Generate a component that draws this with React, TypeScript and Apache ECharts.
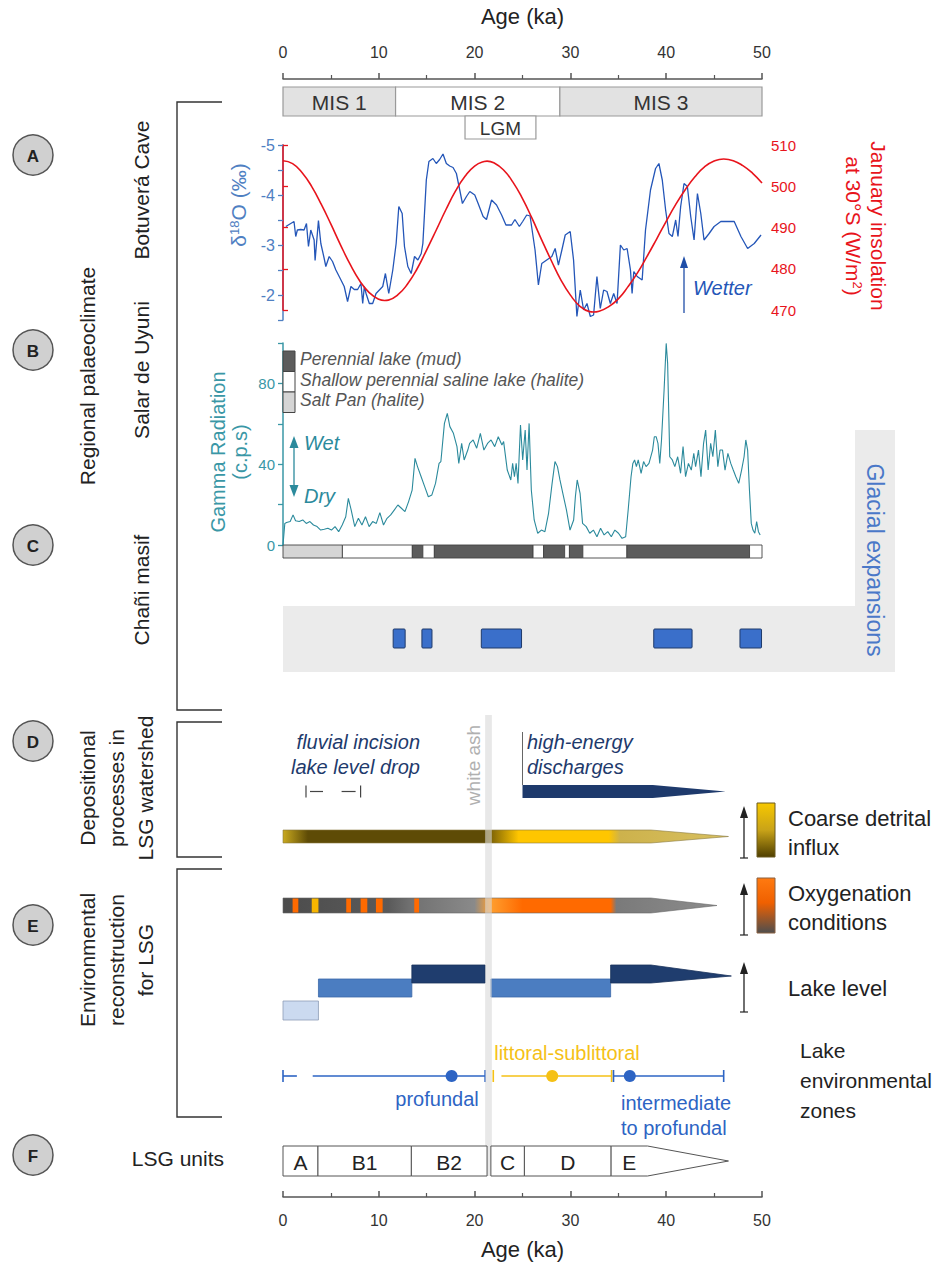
import React, { useEffect, useRef } from "react";
import * as echarts from "echarts";

const FONT = "'Liberation Sans', Arial, Helvetica, sans-serif";

// ---------------- data ----------------
const AGE_MIN = 0;
const AGE_MAX = 50;

const MIS_STAGES = [
  { name: "MIS 1", start: 0, end: 11.75, kind: "shaded" },
  { name: "MIS 2", start: 11.75, end: 28.9, kind: "open" },
  { name: "MIS 3", start: 28.9, end: 50, kind: "shaded" },
];
const LGM = [{ name: "LGM", start: 19.0, end: 26.4 }];

const D18O_TICK_LABELS = [-5, -4, -3, -2];
const GAMMA_TICK_LABELS = [0, 40, 80];

// Botuverá Cave δ18O (‰) [age ka, value]
const D18O = [
  [0.3, -3.37], [1.15, -3.47], [1.33, -3.17], [1.5, -3.3], [1.85, -3.31], [2.2, -3.3], [2.45, -3.43], [2.66, -2.97],
  [2.9, -3.3], [3.25, -3.1], [3.35, -2.69], [3.7, -3.49], [3.95, -3.03], [4.3, -2.73], [4.47, -2.57], [4.82, -2.77],
  [5.17, -2.67], [5.52, -2.5], [6.05, -2.3], [6.39, -2.17], [6.74, -1.87], [7.09, -2.17], [7.44, -2.11], [7.79, -2.11],
  [8.14, -2.23], [8.32, -1.83], [8.49, -2.17], [8.67, -2.03], [9.01, -1.83], [9.36, -1.83], [9.71, -2.03], [10.06, -2.1],
  [10.41, -2.17], [10.69, -2.43], [11.04, -2.03], [11.46, -2.5], [11.81, -3.03], [12.09, -3.77], [12.44, -3.63],
  [12.68, -2.97], [13.03, -2.57], [13.38, -2.43], [13.73, -2.77], [14.08, -2.7], [14.43, -2.83], [14.6, -3.03],
  [14.96, -4.3], [15.23, -4.67], [15.65, -4.73], [16.0, -4.63], [16.35, -4.71], [16.7, -4.82], [17.05, -4.63],
  [17.4, -4.58], [17.75, -4.55], [18.1, -4.43], [18.45, -4.1], [18.73, -3.83], [19.15, -3.97], [19.5, -4.07],
  [20.02, -4.0], [20.37, -3.83], [20.89, -3.57], [21.24, -3.51], [21.77, -3.9], [22.29, -3.8], [22.82, -3.6],
  [23.27, -3.4], [23.86, -3.4], [24.21, -3.51], [24.67, -3.37], [25.02, -3.47], [25.44, -3.6], [25.79, -3.58],
  [26.31, -2.9], [26.66, -2.2], [27.01, -2.63], [27.53, -2.7], [28.06, -2.77], [28.41, -2.93], [28.75, -2.6],
  [29.11, -2.9], [29.46, -3.2], [29.98, -3.27], [30.33, -2.7], [30.68, -1.57], [31.03, -2.1], [31.38, -1.7],
  [31.73, -1.83], [32.08, -1.57], [32.42, -1.6], [32.77, -2.37], [33.12, -1.73], [33.47, -2.1], [33.82, -2.07],
  [34.17, -1.83], [34.52, -2.03], [34.87, -1.83], [35.22, -3.0], [35.57, -2.9], [35.92, -2.93], [36.27, -2.5],
  [36.44, -2.03], [36.62, -2.47], [36.97, -2.37], [37.49, -2.3], [37.84, -3.3], [38.36, -4.1], [38.89, -4.53],
  [39.24, -4.63], [39.59, -4.3], [39.94, -3.7], [40.29, -3.23], [40.64, -3.17], [40.99, -3.5], [41.23, -3.17],
  [41.51, -3.77], [41.86, -4.23], [42.21, -4.17], [42.56, -3.57], [42.91, -3.1], [43.26, -4.03], [43.61, -3.63],
  [43.95, -3.1], [44.48, -3.23], [45.0, -3.37], [45.7, -3.47], [46.4, -3.47], [47.1, -3.47], [47.8, -3.17],
  [48.5, -2.93], [49.19, -3.03], [49.9, -3.2],
];

// January insolation at 30°S (W/m²) [age ka, value]
const INSOLATION = [
  [0, 506.2], [1, 505.5], [2, 503.3], [3, 499.9], [4, 495.6], [5, 490.8], [6, 485.8], [7, 481.1], [8, 477.1],
  [9, 474.2], [10, 472.6], [10.6, 472.3], [11, 472.4], [12, 473.7], [13, 476.3], [14, 480.0], [15, 484.6],
  [16, 489.4], [17, 494.3], [18, 498.8], [19, 502.4], [20, 504.9], [21, 506.0], [21.3, 506.1], [22, 505.7],
  [23, 504.0], [24, 501.0], [25, 497.0], [26, 492.2], [27, 487.0], [28, 482.0], [29, 477.3], [30, 473.6],
  [31, 470.9], [32, 469.6], [32.4, 469.5], [33, 469.7], [34, 470.8], [35, 472.7], [36, 475.6], [37, 479.0],
  [38, 483.0], [39, 487.2], [40, 491.5], [41, 495.6], [42, 499.2], [43, 502.3], [44, 504.7], [45, 506.1],
  [46, 506.6], [47, 506.2], [48, 505.0], [49, 503.2], [50, 500.8],
];

// Salar de Uyuni gamma radiation (c.p.s) [age ka, value]
const GAMMA = [
  [0, 0], [0.19, 10.7], [0.37, 11.1], [0.75, 11.6], [1.05, 14.9], [1.31, 12.0], [1.69, 11.6], [2.06, 12.4],
  [2.43, 10.7], [2.81, 11.6], [3.18, 9.9], [3.56, 9.1], [3.93, 7.4], [4.31, 7.8], [4.68, 8.3], [5.06, 7.4],
  [5.43, 9.1], [5.81, 6.6], [6.18, 9.9], [6.55, 14.0], [6.82, 23.1], [7.12, 17.3], [7.49, 9.1], [7.87, 13.2],
  [8.24, 9.9], [8.61, 14.0], [8.99, 9.1], [9.36, 11.6], [9.74, 10.7], [10.11, 16.0], [10.49, 9.9], [10.86, 13.2],
  [11.24, 14.9], [11.61, 17.3], [11.99, 19.8], [12.36, 18.2], [12.73, 16.5], [13.11, 21.5], [13.48, 27.2],
  [13.78, 42.9], [14.04, 38.8], [14.42, 33.8], [14.79, 28.9], [15.17, 23.9], [15.54, 24.8], [15.92, 30.5],
  [16.29, 40.4], [16.48, 41.3], [16.85, 60.2], [17.15, 65.2], [17.42, 58.6], [17.79, 55.3], [18.16, 48.7],
  [18.35, 40.4], [18.65, 50.3], [18.91, 42.1], [19.29, 47.0], [19.48, 50.3], [19.85, 52.0], [20.22, 47.9],
  [20.6, 55.3], [20.97, 47.0], [21.35, 50.3], [21.72, 52.0], [22.1, 48.7], [22.47, 53.6], [22.85, 49.5],
  [23.03, 51.2], [23.41, 37.1], [23.78, 32.2], [23.97, 40.4], [24.16, 33.8], [24.34, 40.4], [24.53, 30.5],
  [24.79, 59.4], [25.02, 42.1], [25.28, 56.9], [25.47, 37.1], [25.69, 60.2], [25.92, 27.2], [26.22, 12.4],
  [26.59, 5.8], [26.97, 7.4], [27.34, 6.6], [27.72, 15.7], [28.09, 30.5], [28.39, 41.3], [28.65, 38.8],
  [28.91, 32.2], [29.21, 25.6], [29.59, 17.3], [29.96, 7.4], [30.34, 12.4], [30.52, 23.9], [30.71, 32.2],
  [31.01, 25.6], [31.27, 10.7], [31.65, 9.1], [32.02, 5.8], [32.4, 7.4], [32.77, 4.1], [33.15, 8.3], [33.52, 5.0],
  [33.9, 6.6], [34.27, 4.1], [34.64, 7.4], [35.02, 5.8], [35.39, 3.3], [35.77, 4.1], [36.03, 17.3], [36.33, 33.8],
  [36.52, 40.4], [36.7, 42.1], [36.89, 38.8], [37.08, 42.1], [37.38, 35.5], [37.64, 41.3], [37.9, 38.8],
  [38.2, 40.4], [38.58, 47.0], [38.76, 53.6], [38.95, 53.6], [39.14, 50.3], [39.33, 40.4], [39.51, 52.0],
  [39.78, 76.7], [40.0, 99.8], [40.15, 89.9], [40.37, 43.7], [40.64, 42.1], [40.9, 38.8], [41.2, 43.7],
  [41.5, 35.5], [41.76, 48.7], [42.02, 33.8], [42.32, 40.4], [42.62, 37.1], [42.88, 45.4], [43.07, 38.8],
  [43.37, 47.0], [43.63, 33.8], [43.9, 50.3], [44.12, 56.9], [44.38, 37.1], [44.64, 50.3], [44.87, 43.7],
  [45.13, 56.9], [45.39, 38.8], [45.62, 47.0], [45.88, 47.0], [46.14, 37.1], [46.44, 45.4], [46.74, 40.4],
  [47.0, 37.1], [47.27, 33.8], [47.57, 30.5], [47.87, 37.1], [48.13, 43.7], [48.31, 52.0], [48.5, 47.0],
  [48.69, 27.2], [48.88, 10.7], [49.06, 7.4], [49.25, 5.8], [49.44, 11.6], [49.63, 6.6], [49.81, 5.0],
];

// Salar de Uyuni stratigraphy
const STRAT_UNITS = [
  { start: 0, end: 6.2, facies: "saltPan" },
  { start: 6.2, end: 13.5, facies: "shallow" },
  { start: 13.5, end: 14.6, facies: "perennial" },
  { start: 14.6, end: 15.8, facies: "shallow" },
  { start: 15.8, end: 26.1, facies: "perennial" },
  { start: 26.1, end: 27.2, facies: "shallow" },
  { start: 27.2, end: 29.4, facies: "perennial" },
  { start: 29.4, end: 29.9, facies: "shallow" },
  { start: 29.9, end: 31.3, facies: "perennial" },
  { start: 31.3, end: 35.9, facies: "shallow" },
  { start: 35.9, end: 48.7, facies: "perennial" },
  { start: 48.7, end: 50, facies: "shallow" },
];
const STRAT_LEGEND = [
  { facies: "perennial", label: "Perennial lake (mud)" },
  { facies: "shallow", label: "Shallow perennial saline lake (halite)" },
  { facies: "saltPan", label: "Salt Pan (halite)" },
];

// Chañi masif glacial expansions [start, end] ka
const GLACIAL_EXPANSIONS = [
  [11.5, 12.75], [14.5, 15.55], [20.7, 24.9], [38.7, 42.7], [47.7, 49.95],
];

const WHITE_ASH = { start: 21.1, end: 21.8 };
const FLUVIAL_INCISION = { start: 2.4, end: 8.1 };
const HIGH_ENERGY = { start: 25.0, taper: 38.6, tip: 46.2 };
const COARSE_DETRITAL = { start: 0, taper: 38.4, tip: 46.5 };
const COARSE_STOPS: [number, string][] = [
  [0, "#c9a91f"], [2.6, "#5e4b06"], [21.0, "#5e4b06"], [24.6, "#ffc600"], [34.0, "#ffc600"], [35.2, "#cdb24c"], [46.5, "#d8c060"],
];
const OXYGENATION = { start: 0, taper: 38.4, tip: 45.3 };
const OXY_STOPS: [number, string][] = [
  [0, "#4c4c4c"], [11, "#5a5a5a"], [13.2, "#707070"], [20.0, "#8a8a8a"], [21.6, "#ffa030"], [25.0, "#ff6a00"],
  [34.2, "#ff6a00"], [34.8, "#7a7a7a"], [45.3, "#8c8c8c"],
];
const OXY_PULSES = [
  { start: 1.0, end: 1.6, kind: "orange" },
  { start: 3.0, end: 3.7, kind: "yellow" },
  { start: 6.6, end: 7.1, kind: "orange" },
  { start: 8.1, end: 8.8, kind: "orange" },
  { start: 9.7, end: 10.4, kind: "orange" },
  { start: 13.7, end: 14.2, kind: "orange" },
];
const LAKE_LEVEL = [
  { start: 0, end: 3.7, level: 0 },
  { start: 3.7, end: 13.45, level: 1 },
  { start: 13.45, end: 21.1, level: 2 },
  { start: 21.7, end: 34.2, level: 1 },
  { start: 34.2, end: 38.4, level: 2, tip: 46.8 },
];
const ZONE_SEGMENTS = [
  { start: 0, end: 1.45, zone: "deep", capStart: true, capEnd: false },
  { start: 3.1, end: 21.1, zone: "deep", capStart: false, capEnd: true },
  { start: 21.95, end: 21.95, zone: "shallow", capStart: true, capEnd: false },
  { start: 22.8, end: 34.3, zone: "shallow", capStart: false, capEnd: true },
  { start: 34.5, end: 46.0, zone: "deep", capStart: true, capEnd: true },
];
const ZONE_CENTRES = [
  { age: 17.6, zone: "deep" },
  { age: 28.1, zone: "shallow" },
  { age: 36.2, zone: "deep" },
];
const LSG_UNITS = [
  { name: "A", start: 0, end: 3.65 },
  { name: "B1", start: 3.65, end: 13.4 },
  { name: "B2", start: 13.4, end: 21.3 },
  { name: "C", start: 21.7, end: 25.2 },
  { name: "D", start: 25.2, end: 34.25 },
  { name: "E", start: 34.25, end: 38.05, tip: 46.5 },
];

// ---------------- layout & styles ----------------
const PLOT_LEFT = 283;
const PLOT_WIDTH = 479;
const LANES: [string, number, number][] = [
  ["axisTop", 69, 10],
  ["mis", 87, 29],
  ["lgm", 116, 23],
  ["a", 145, 175],
  ["a2", 145, 165],
  ["b", 343, 202],
  ["strat", 545, 13],
  ["glacial", 629, 19],
  ["ash", 715, 461],
  ["energy", 785, 13],
  ["coarse", 830, 13],
  ["oxy", 898, 15],
  ["lake", 962, 60],
  ["zones", 1066, 20],
  ["units", 1146, 30],
  ["axisBottom", 1187, 10],
];
const G: Record<string, number> = {};
LANES.forEach(([k], i) => (G[k] = i));

const C = {
  text: "#222",
  axis: "#555",
  d18o: "#2456b8",
  d18oAxis: "#4f80c2",
  insol: "#e8141c",
  gamma: "#2b8a9c",
  gammaAxis: "#3a97a6",
  navy: "#1e3a6c",
  deep: "#2d64c4",
  shallow: "#f5c116",
  glacial: "#3a6fca",
  glacialText: "#4a78c8",
  legendGrey: "#555",
};
const MIS_FILL: Record<string, string> = { shaded: "#e2e2e2", open: "#ffffff" };
const FACIES_FILL: Record<string, string> = { perennial: "#5c5c5c", shallow: "#ffffff", saltPan: "#d5d5d5" };
const PULSE_FILL: Record<string, string> = { orange: "#ff6a00", yellow: "#f7b500" };
const LAKE_ROWS: Record<number, { dy: number; h: number; fill: string; stroke: string }> = {
  0: { dy: 39, h: 19, fill: "#cbdaf0", stroke: "#8d9db6" },
  1: { dy: 17, h: 18, fill: "#4b7dc1", stroke: "#3b68a8" },
  2: { dy: 3, h: 18, fill: "#1f3d6e", stroke: "#19325c" },
};
const ZONE_COLOR: Record<string, string> = { deep: C.deep, shallow: C.shallow };

const LABEL_SIZE = 21;
const LEGEND_SIZE = 22;

// ---------------- helpers ----------------
const px = (api: any, age: number) => api.coord([age, 0])[0];

function lane(key: string, data: any[], render: (p: any, api: any, i: number) => any, z = 3) {
  return {
    type: "custom",
    xAxisIndex: G[key],
    yAxisIndex: G[key],
    data,
    encode: { x: [0, 1] },
    clip: false,
    silent: true,
    z,
    renderItem: (p: any, api: any) => render(p, api, p.dataIndex),
  };
}

function txt(text: string, x: number, y: number, o: any = {}) {
  return {
    type: "text",
    x,
    y,
    z: 100,
    rotation: o.rot || 0,
    style: {
      text,
      fill: o.color || C.text,
      fontSize: o.size || LABEL_SIZE,
      fontFamily: FONT,
      fontStyle: o.italic ? "italic" : "normal",
      fontWeight: o.bold ? "bold" : "normal",
      align: o.align || "center",
      verticalAlign: "middle",
      rich: o.rich,
    },
  };
}

function gLine(x1: number, y1: number, x2: number, y2: number, color: string, w = 1.3) {
  return { type: "line", z: 100, shape: { x1, y1, x2, y2 }, style: { stroke: color, lineWidth: w } };
}
function gPoly(points: number[][], color: string) {
  return { type: "polygon", z: 100, shape: { points }, style: { fill: color } };
}
function upArrow(x: number, top: number, bottom: number, color: string, foot = true) {
  const els: any[] = [gLine(x, bottom, x, top + 8, color), gPoly([[x, top], [x - 4, top + 12], [x + 4, top + 12]], color)];
  if (foot) els.push(gLine(x - 4, bottom, x + 4, bottom, color, 1.2));
  return els;
}
function taperPoints(p: any, api: any, bar: { start: number; taper: number; tip: number }) {
  const cs = p.coordSys;
  const x0 = px(api, bar.start), xt = px(api, bar.taper), xe = px(api, bar.tip);
  const top = cs.y, bot = cs.y + cs.height, mid = cs.y + cs.height / 2;
  return [[x0, top], [xt, top], [xe, mid], [xt, bot], [x0, bot]];
}
function gradient(api: any, bar: { start: number; tip: number }, stops: [number, string][]) {
  return new echarts.graphic.LinearGradient(
    px(api, bar.start), 0, px(api, bar.tip), 0,
    stops.map(([a, c]) => ({ offset: (a - bar.start) / (bar.tip - bar.start), color: c })),
    true
  );
}

// ---------------- option ----------------
function buildOption() {
  const grid = LANES.map(([, top, height]) => ({ left: PLOT_LEFT, width: PLOT_WIDTH, top, height, containLabel: false }));

  const xAxis = LANES.map(([k], i) => {
    const base: any = { gridIndex: i, type: "value", min: AGE_MIN, max: AGE_MAX, show: false, splitLine: { show: false } };
    if (k === "axisTop" || k === "axisBottom") {
      const top = k === "axisTop";
      Object.assign(base, {
        show: true,
        position: top ? "top" : "bottom",
        interval: 10,
        axisLine: { show: true, lineStyle: { color: C.axis, width: 1.5 } },
        axisTick: { show: true, inside: !top, length: 6, lineStyle: { color: C.axis, width: 1.5 } },
        minorTick: { show: true, splitNumber: 2, length: 4, lineStyle: { color: C.axis, width: 1.2 } },
        minorSplitLine: { show: false },
        axisLabel: { show: true, margin: top ? 9 : 15, fontSize: 16, color: "#333", fontFamily: FONT },
        name: "Age (ka)",
        nameLocation: "middle",
        nameGap: top ? 42 : 41,
        nameTextStyle: { fontSize: 22, color: C.text, fontFamily: FONT },
      });
    }
    return base;
  });

  const yAxis: any[] = LANES.map(([], i) => ({ gridIndex: i, type: "value", min: 0, max: 1, show: false, splitLine: { show: false } }));
  yAxis[G.a] = {
    gridIndex: G.a, type: "value", position: "left", min: -5, max: -1.5, inverse: true, interval: 0.5,
    axisLine: { show: true, lineStyle: { color: C.d18oAxis, width: 1.5 } },
    axisTick: { show: true, length: 5, lineStyle: { color: C.d18oAxis, width: 1.3 } },
    axisLabel: {
      show: true, margin: 8, fontSize: 16, color: C.d18oAxis, fontFamily: FONT,
      formatter: (v: number) => (D18O_TICK_LABELS.includes(Math.round(v * 100) / 100) ? String(v) : ""),
    },
    splitLine: { show: false },
  };
  yAxis[G.a2] = {
    gridIndex: G.a2, type: "value", position: "right", min: 470, max: 510, interval: 10,
    axisLine: { show: true, lineStyle: { color: C.insol, width: 1.5 } },
    axisTick: { show: true, length: 5, lineStyle: { color: C.insol, width: 1.3 } },
    axisLabel: { show: true, margin: 9, fontSize: 15, color: C.insol, fontFamily: FONT },
    splitLine: { show: false },
  };
  yAxis[G.b] = {
    gridIndex: G.b, type: "value", position: "left", min: 0, max: 100, interval: 20,
    axisLine: { show: true, lineStyle: { color: C.gammaAxis, width: 1.5 } },
    axisTick: { show: true, length: 5, lineStyle: { color: C.gammaAxis, width: 1.3 } },
    axisLabel: {
      show: true, margin: 8, fontSize: 15, color: C.gammaAxis, fontFamily: FONT,
      formatter: (v: number) => (GAMMA_TICK_LABELS.includes(v) ? String(v) : ""),
    },
    splitLine: { show: false },
  };

  const series: any[] = [
    {
      type: "line", xAxisIndex: G.a, yAxisIndex: G.a, data: D18O, symbol: "none", showSymbol: false,
      lineStyle: { color: C.d18o, width: 1.3 }, z: 3, silent: true,
    },
    {
      type: "line", xAxisIndex: G.a2, yAxisIndex: G.a2, data: INSOLATION, smooth: true, symbol: "none",
      showSymbol: false, clip: false, lineStyle: { color: C.insol, width: 1.6 }, z: 4, silent: true,
    },
    {
      type: "line", xAxisIndex: G.b, yAxisIndex: G.b, data: GAMMA, symbol: "none", showSymbol: false,
      lineStyle: { color: C.gamma, width: 1.1 }, z: 3, silent: true,
    },
    // MIS stages
    lane("mis", MIS_STAGES.map((s) => [s.start, s.end]), (p, api, i) => {
      const s = MIS_STAGES[i];
      const cs = p.coordSys;
      const x0 = px(api, s.start), x1 = px(api, s.end);
      return {
        type: "group",
        children: [
          { type: "rect", shape: { x: x0, y: cs.y, width: x1 - x0, height: cs.height }, style: { fill: MIS_FILL[s.kind], stroke: "#9a9a9a", lineWidth: 1.2 } },
          { type: "text", style: { x: (x0 + x1) / 2, y: cs.y + cs.height / 2 + 1, text: s.name, fill: "#333", fontSize: 21, fontFamily: FONT, align: "center", verticalAlign: "middle" } },
        ],
      };
    }),
    lane("lgm", LGM.map((s) => [s.start, s.end]), (p, api, i) => {
      const s = LGM[i];
      const cs = p.coordSys;
      const x0 = px(api, s.start), x1 = px(api, s.end);
      return {
        type: "group",
        children: [
          { type: "rect", shape: { x: x0, y: cs.y, width: x1 - x0, height: cs.height }, style: { fill: "#fff", stroke: "#9a9a9a", lineWidth: 1.2 } },
          { type: "text", style: { x: (x0 + x1) / 2, y: cs.y + cs.height / 2 + 1, text: s.name, fill: "#333", fontSize: 19, fontFamily: FONT, align: "center", verticalAlign: "middle" } },
        ],
      };
    }),
    // stratigraphy bar
    lane("strat", STRAT_UNITS.map((s) => [s.start, s.end]), (p, api, i) => {
      const s = STRAT_UNITS[i];
      const cs = p.coordSys;
      const x0 = px(api, s.start), x1 = px(api, s.end);
      return { type: "rect", shape: { x: x0, y: cs.y, width: x1 - x0, height: cs.height }, style: { fill: FACIES_FILL[s.facies], stroke: "#444", lineWidth: 0.9 } };
    }),
    // glacial expansions
    lane("glacial", GLACIAL_EXPANSIONS, (p, api, i) => {
      const [a, b] = GLACIAL_EXPANSIONS[i];
      const cs = p.coordSys;
      const x0 = px(api, a), x1 = px(api, b);
      return { type: "rect", shape: { x: x0, y: cs.y, width: x1 - x0, height: cs.height, r: 1 }, style: { fill: C.glacial, stroke: "#1f3a6a", lineWidth: 1 } };
    }),
    // white ash
    lane("ash", [[WHITE_ASH.start, WHITE_ASH.end]], (p, api) => {
      const cs = p.coordSys;
      const x0 = px(api, WHITE_ASH.start), x1 = px(api, WHITE_ASH.end);
      return { type: "rect", shape: { x: x0, y: cs.y, width: x1 - x0, height: cs.height }, style: { fill: "#d9d9d9", opacity: 0.6 } };
    }, 5),
    // high-energy discharges
    lane("energy", [[HIGH_ENERGY.start, HIGH_ENERGY.tip]], (p, api) => {
      const cs = p.coordSys;
      const x0 = px(api, HIGH_ENERGY.start);
      return {
        type: "group",
        children: [
          { type: "polygon", shape: { points: taperPoints(p, api, HIGH_ENERGY) }, style: { fill: C.navy } },
          { type: "line", shape: { x1: x0, y1: cs.y, x2: x0, y2: cs.y - 53 }, style: { stroke: "#666", lineWidth: 1 } },
        ],
      };
    }),
    // fluvial incision / lake level drop markers
    lane("energy", [[FLUVIAL_INCISION.start, FLUVIAL_INCISION.end]], (p, api) => {
      const cs = p.coordSys;
      const mid = cs.y + cs.height / 2;
      const a = px(api, FLUVIAL_INCISION.start), b = px(api, FLUVIAL_INCISION.end);
      const st = { stroke: "#444", lineWidth: 1.2 };
      return {
        type: "group",
        children: [
          { type: "line", shape: { x1: a, y1: mid - 6, x2: a, y2: mid + 6 }, style: st },
          { type: "line", shape: { x1: a + 4, y1: mid, x2: a + 17, y2: mid }, style: st },
          { type: "line", shape: { x1: b, y1: mid - 6, x2: b, y2: mid + 6 }, style: st },
          { type: "line", shape: { x1: b - 19, y1: mid, x2: b - 5, y2: mid }, style: st },
        ],
      };
    }),
    // coarse detrital influx
    lane("coarse", [[COARSE_DETRITAL.start, COARSE_DETRITAL.tip]], (p, api) => ({
      type: "polygon",
      shape: { points: taperPoints(p, api, COARSE_DETRITAL) },
      style: { fill: gradient(api, COARSE_DETRITAL, COARSE_STOPS), stroke: "#8a7a40", lineWidth: 0.6 },
    })),
    // oxygenation
    lane("oxy", [[OXYGENATION.start, OXYGENATION.tip]], (p, api) => ({
      type: "polygon",
      shape: { points: taperPoints(p, api, OXYGENATION) },
      style: { fill: gradient(api, OXYGENATION, OXY_STOPS), stroke: "#666", lineWidth: 0.6 },
    })),
    lane("oxy", OXY_PULSES.map((s) => [s.start, s.end]), (p, api, i) => {
      const s = OXY_PULSES[i];
      const cs = p.coordSys;
      const x0 = px(api, s.start), x1 = px(api, s.end);
      return { type: "rect", shape: { x: x0, y: cs.y + 0.5, width: x1 - x0, height: cs.height - 1 }, style: { fill: PULSE_FILL[s.kind] } };
    }, 4),
    // lake level
    lane("lake", LAKE_LEVEL.map((s) => [s.start, s.tip ?? s.end]), (p, api, i) => {
      const s = LAKE_LEVEL[i];
      const cs = p.coordSys;
      const row = LAKE_ROWS[s.level];
      const top = cs.y + row.dy, bot = top + row.h;
      const x0 = px(api, s.start), x1 = px(api, s.end);
      if (s.tip !== undefined) {
        const xe = px(api, s.tip);
        return { type: "polygon", shape: { points: [[x0, top], [x1, top], [xe, (top + bot) / 2 + 2], [x1, bot], [x0, bot]] }, style: { fill: row.fill, stroke: row.stroke, lineWidth: 0.8 } };
      }
      return { type: "rect", shape: { x: x0, y: top, width: x1 - x0, height: row.h }, style: { fill: row.fill, stroke: row.stroke, lineWidth: 0.8 } };
    }),
    // lake environmental zones
    lane("zones", ZONE_SEGMENTS.map((s) => [s.start, s.end]), (p, api, i) => {
      const s = ZONE_SEGMENTS[i];
      const cs = p.coordSys;
      const mid = cs.y + cs.height / 2;
      const col = ZONE_COLOR[s.zone];
      const x0 = px(api, s.start), x1 = px(api, s.end);
      const st = { stroke: col, lineWidth: 1.6 };
      const ch: any[] = [];
      if (x1 > x0) ch.push({ type: "line", shape: { x1: x0, y1: mid, x2: x1, y2: mid }, style: st });
      if (s.capStart) ch.push({ type: "line", shape: { x1: x0, y1: mid - 6, x2: x0, y2: mid + 6 }, style: st });
      if (s.capEnd) ch.push({ type: "line", shape: { x1: x1, y1: mid - 6, x2: x1, y2: mid + 6 }, style: st });
      return { type: "group", children: ch };
    }),
    lane("zones", ZONE_CENTRES.map((s) => [s.age, s.age]), (p, api, i) => {
      const s = ZONE_CENTRES[i];
      const cs = p.coordSys;
      return { type: "circle", shape: { cx: px(api, s.age), cy: cs.y + cs.height / 2, r: 6 }, style: { fill: ZONE_COLOR[s.zone] } };
    }, 4),
    // LSG units
    lane("units", LSG_UNITS.map((s) => [s.start, s.tip ?? s.end]), (p, api, i) => {
      const s = LSG_UNITS[i];
      const cs = p.coordSys;
      const top = cs.y, bot = cs.y + cs.height, mid = cs.y + cs.height / 2;
      const x0 = px(api, s.start), x1 = px(api, s.end);
      const box = s.tip !== undefined
        ? { type: "polygon", shape: { points: [[x0, top], [x1, top], [px(api, s.tip), mid], [x1, bot], [x0, bot]] }, style: { fill: "#fff", stroke: "#555", lineWidth: 1 } }
        : { type: "rect", shape: { x: x0, y: top, width: x1 - x0, height: cs.height }, style: { fill: "#fff", stroke: "#555", lineWidth: 1 } };
      return {
        type: "group",
        children: [
          box,
          { type: "text", style: { x: (x0 + x1) / 2, y: mid + 1, text: s.name, fill: C.text, fontSize: 21, fontFamily: FONT, align: "center", verticalAlign: "middle" } },
        ],
      };
    }, 6),
  ];

  // ---------- annotations ----------
  const el: any[] = [];
  // glacial background box
  el.push({ type: "rect", z: 0, shape: { x: 283, y: 606, width: 612, height: 66 }, style: { fill: "#ebebeb" } });
  el.push({ type: "rect", z: 0, shape: { x: 855, y: 430, width: 40, height: 177 }, style: { fill: "#ebebeb" } });
  el.push(txt("Glacial expansions", 875, 560, { rot: -Math.PI / 2, color: C.glacialText, size: 23 }));

  // circles
  [["A", 155], ["B", 350], ["C", 545], ["D", 741], ["E", 925], ["F", 1155]].forEach(([l, y]) => {
    el.push({ type: "circle", z: 99, shape: { cx: 33, cy: y as number, r: 20 }, style: { fill: "#d0d0d0", stroke: "#555", lineWidth: 1.5 } });
    el.push(txt(l as string, 33, (y as number) + 1, { bold: true, size: 17, color: "#222" }));
  });

  // left labels
  const R = Math.PI / 2;
  el.push(txt("Regional palaeoclimate", 87, 376, { rot: R }));
  el.push(txt("Botuverá Cave", 141, 190, { rot: R }));
  el.push(txt("Salar de Uyuni", 141, 370, { rot: R }));
  el.push(txt("Chañi masif", 141, 590, { rot: R }));
  el.push(txt("Depositional", 87, 788, { rot: R }));
  el.push(txt("processes in", 116, 788, { rot: R }));
  el.push(txt("LSG watershed", 145, 788, { rot: R }));
  el.push(txt("Environmental", 87, 960, { rot: R }));
  el.push(txt("reconstruction", 116, 960, { rot: R }));
  el.push(txt("for LSG", 145, 960, { rot: R }));
  el.push(txt("LSG units", 224, 1158, { align: "right" }));

  // brackets
  const bracket = (y1: number, y2: number) => ({
    type: "polyline", z: 99, shape: { points: [[222, y1], [177, y1], [177, y2], [222, y2]] }, style: { stroke: "#333", lineWidth: 1.4, fill: "none" },
  });
  el.push(bracket(102, 710), bracket(722, 857), bracket(869, 1117));

  // axis titles of panel A and B
  el.push(txt("{n|δ}{s|18}{n|O (‰)}", 238, 205, {
    rot: R, color: C.d18oAxis,
    rich: { n: { fontSize: 21, fill: C.d18oAxis, fontFamily: FONT }, s: { fontSize: 13, fill: C.d18oAxis, fontFamily: FONT, verticalAlign: "top" } },
  }));
  el.push(txt("January insolation", 878, 226, { rot: -R, color: C.insol }));
  el.push(txt("{n|at 30°S (W/m}{s|2}{n|)}", 853, 226, {
    rot: -R, color: C.insol,
    rich: { n: { fontSize: 21, fill: C.insol, fontFamily: FONT }, s: { fontSize: 13, fill: C.insol, fontFamily: FONT, verticalAlign: "top" } },
  }));
  el.push(txt("Gamma Radiation", 218, 452, { rot: R, color: C.gammaAxis, size: 20 }));
  el.push(txt("(c.p.s)", 240, 452, { rot: R, color: C.gammaAxis, size: 20 }));

  // Wetter arrow
  el.push(...upArrow(684, 256, 313, "#1f4ea8", false));
  el.push(txt("Wetter", 693, 288, { italic: true, color: C.d18o, align: "left", size: 20 }));

  // Wet / Dry double arrow
  el.push(gLine(294, 446, 294, 487, C.gamma, 1.3));
  el.push(gPoly([[294, 436], [289.5, 448], [298.5, 448]], C.gamma));
  el.push(gPoly([[294, 497], [289.5, 485], [298.5, 485]], C.gamma));
  el.push(txt("Wet", 304, 443, { italic: true, color: C.gamma, align: "left", size: 20 }));
  el.push(txt("Dry", 304, 496, { italic: true, color: C.gamma, align: "left", size: 20 }));

  // facies legend
  STRAT_LEGEND.forEach((f, i) => {
    const y = 351 + i * 20.5;
    el.push({ type: "rect", z: 99, shape: { x: 283, y, width: 12, height: 20.5 }, style: { fill: FACIES_FILL[f.facies], stroke: "#444", lineWidth: 1 } });
    el.push(txt(f.label, 300, y + 8, { italic: true, size: 17.5, color: C.legendGrey, align: "left" }));
  });

  // panel D annotations
  el.push(txt("fluvial incision", 420, 742, { italic: true, color: C.navy, align: "right", size: 20 }));
  el.push(txt("lake level drop", 420, 767, { italic: true, color: C.navy, align: "right", size: 20 }));
  el.push(txt("high-energy", 527, 742, { italic: true, color: C.navy, align: "left", size: 20 }));
  el.push(txt("discharges", 527, 767, { italic: true, color: C.navy, align: "left", size: 20 }));
  el.push(txt("white ash", 473, 765, { rot: R, color: "#b0b0b0", size: 19 }));

  // right legends
  el.push(...upArrow(744, 806, 858, "#222"));
  el.push({
    type: "rect", z: 99, shape: { x: 757, y: 803, width: 18, height: 54 },
    style: { fill: new echarts.graphic.LinearGradient(0, 0, 0, 1, [{ offset: 0, color: "#f7c800" }, { offset: 0.5, color: "#c9a318" }, { offset: 1, color: "#4f3f00" }]), stroke: "#6a5a20", lineWidth: 1 },
  });
  el.push(txt("Coarse detrital", 788, 818, { align: "left", size: LEGEND_SIZE }));
  el.push(txt("influx", 788, 847, { align: "left", size: LEGEND_SIZE }));
  el.push(...upArrow(744, 883, 935, "#222"));
  el.push({
    type: "rect", z: 99, shape: { x: 757, y: 878, width: 18, height: 55 },
    style: { fill: new echarts.graphic.LinearGradient(0, 0, 0, 1, [{ offset: 0, color: "#ff7a10" }, { offset: 0.45, color: "#f06000" }, { offset: 1, color: "#4e4e4e" }]), stroke: "#8a6040", lineWidth: 1 },
  });
  el.push(txt("Oxygenation", 788, 893, { align: "left", size: LEGEND_SIZE }));
  el.push(txt("conditions", 788, 922, { align: "left", size: LEGEND_SIZE }));
  el.push(...upArrow(744, 962, 1012, "#222"));
  el.push(txt("Lake level", 788, 988, { align: "left", size: LEGEND_SIZE }));
  el.push(txt("Lake", 800, 1050, { align: "left", size: 21 }));
  el.push(txt("environmental", 800, 1080, { align: "left", size: 21 }));
  el.push(txt("zones", 800, 1110, { align: "left", size: 21 }));

  // zone labels
  el.push(txt("littoral-sublittoral", 567, 1053, { color: C.shallow, size: 20 }));
  el.push(txt("profundal", 437, 1099, { color: C.deep, size: 20 }));
  el.push(txt("intermediate", 621, 1103, { color: C.deep, align: "left", size: 20 }));
  el.push(txt("to profundal", 621, 1128, { color: C.deep, align: "left", size: 20 }));

  return {
    animation: false,
    backgroundColor: "#ffffff",
    textStyle: { fontFamily: FONT },
    grid,
    xAxis,
    yAxis,
    series,
    graphic: { elements: el },
  };
}

export default function App() {
  const ref = useRef<HTMLDivElement>(null);
  useEffect(() => {
    if (!ref.current) return;
    const chart = echarts.init(ref.current, null, { renderer: "svg" });
    chart.setOption(buildOption() as any);
    return () => chart.dispose();
  }, []);
  return <div ref={ref} style={{ position: "absolute", left: 0, top: 0, width: 938, height: 1262 }} />;
}
